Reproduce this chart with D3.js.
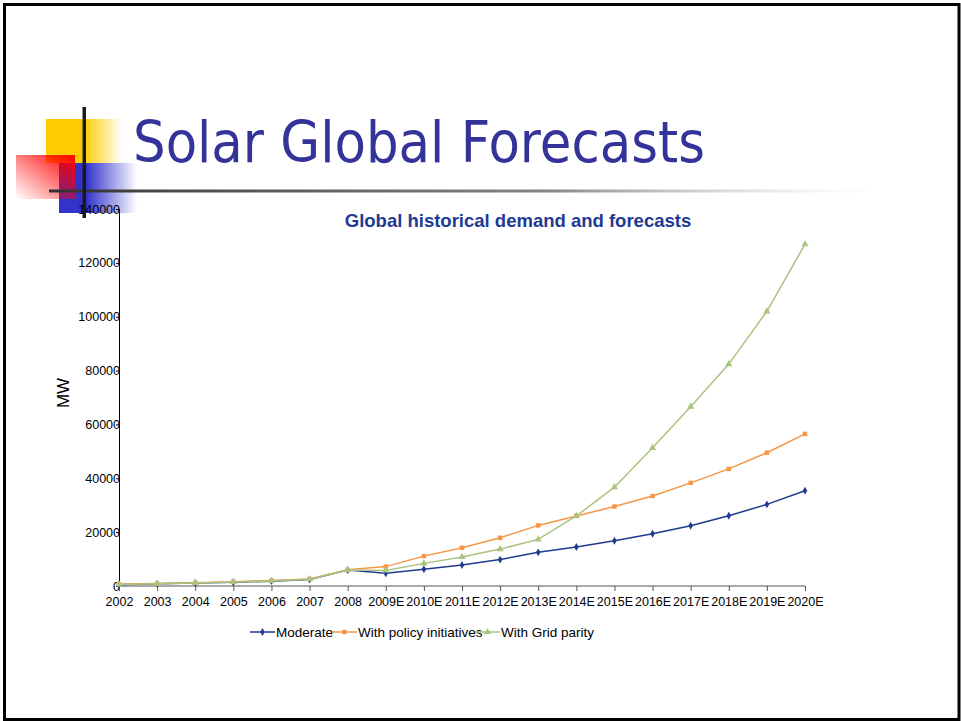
<!DOCTYPE html>
<html><head><meta charset="utf-8">
<script src="https://cdn.jsdelivr.net/npm/d3@7/dist/d3.min.js"></script>
<style>body{margin:0;background:#fff}svg{display:block}</style>
</head><body>
<svg id="c" width="961" height="721"></svg>
<script>
const categories = ["2002","2003","2004","2005","2006","2007","2008","2009E","2010E","2011E","2012E","2013E","2014E","2015E","2016E","2017E","2018E","2019E","2020E"];
const moderate = [500,800,1100,1400,1800,2400,5900,4700,6200,7800,9800,12500,14500,16800,19400,22400,26100,30300,35400];
const policy   = [700,900,1200,1600,2000,2600,6000,7200,11100,14200,17900,22500,26000,29500,33400,38300,43500,49500,56500];
const gridParity = [600,850,1150,1500,1900,2500,5900,5800,8400,10800,13700,17300,26000,36700,51300,66600,82400,102000,126900];
const yTicks = [0,20000,40000,60000,80000,100000,120000,140000];
const seriesNames = ["Moderate","With policy initiatives","With Grid parity"];

const svg = d3.select("#c");
const defs = svg.append("defs");
function lg(id, x1,y1,x2,y2, stops){
  const g = defs.append("linearGradient").attr("id",id).attr("x1",x1).attr("y1",y1).attr("x2",x2).attr("y2",y2);
  stops.forEach(s=>g.append("stop").attr("offset",s[0]).attr("stop-color",s[1]).attr("stop-opacity",s[2]));
}
lg("gy","0","0","1","0",[[0,"#FFCC00",1],[0.5,"#FFCC00",1],[1,"#FFCC00",0]]);
lg("gb","0","0","1","0",[[0,"#3333CC",1],[0.35,"#3333CC",1],[1,"#3333CC",0]]);
lg("gr","1","0","0","1",[[0,"#FF0000",1],[1,"#FF0000",0]]);
lg("gl","0","0","1","0",[[0,"#333333",1],[0.6,"#666666",0.8],[1,"#cccccc",0]]);

// slide border
svg.append("rect").attr("x",4.5).attr("y",4.5).attr("width",954.5).attr("height",715).attr("fill","none").attr("stroke","#000").attr("stroke-width",3);

// decoration
svg.append("rect").attr("x",46).attr("y",119).attr("width",76).attr("height",44).attr("fill","url(#gy)");
svg.append("rect").attr("x",59).attr("y",163).attr("width",78).attr("height",50).attr("fill","url(#gb)");
svg.append("rect").attr("x",16).attr("y",155).attr("width",59).attr("height",44).attr("fill","url(#gr)");
svg.append("rect").attr("x",49).attr("y",189.5).attr("width",830).attr("height",3).attr("fill","url(#gl)");
svg.append("rect").attr("x",82.5).attr("y",107).attr("width",3.5).attr("height",111).attr("fill","#1a1a1a");

// slide title
svg.append("text").attr("x",133).attr("y",162).attr("font-family","DejaVu Sans").attr("font-size",57)
  .attr("fill","#333399").attr("textLength",572).attr("lengthAdjust","spacingAndGlyphs").text("Solar Global Forecasts");

// chart
const x = d3.scalePoint().domain(categories).range([119,805]);
const y = d3.scaleLinear().domain([0,140000]).range([586,209]);

svg.append("text").attr("x",518).attr("y",227).attr("text-anchor","middle").attr("font-family","Liberation Sans, Arial")
  .attr("font-weight","bold").attr("font-size",18.5).attr("fill","#1F3A93").text("Global historical demand and forecasts");

svg.append("text").attr("transform","translate(69,393) rotate(-90)").attr("text-anchor","middle")
  .attr("font-family","Liberation Sans, Arial").attr("font-size",17).attr("fill","#000").text("MW");

const yAxis = svg.append("g").attr("transform","translate(119,0)")
  .call(d3.axisLeft(y).tickValues(yTicks).tickFormat(d3.format("d")).tickSize(3).tickPadding(-4));
yAxis.selectAll("text").attr("font-family","Liberation Sans, Arial").attr("font-size",12.5).attr("fill","#000");
yAxis.selectAll("line,path").attr("stroke","#000");

const xAxis = svg.append("g").attr("transform","translate(0,586)")
  .call(d3.axisBottom(x).tickSize(5).tickPadding(6));
xAxis.selectAll("text").attr("font-family","Liberation Sans, Arial").attr("font-size",12.5).attr("fill","#000");
xAxis.selectAll("line").attr("stroke","#555");
xAxis.select("path").attr("stroke","#555").attr("d","M119,0H805");

const colors = ["#1F3A8F","#F79646","#A9C47F"];
const data = [moderate, policy, gridParity];
const line = d3.line().x((d,i)=>x(categories[i])).y(d=>y(d));
const symbols = [d3.symbolDiamond, d3.symbolSquare, d3.symbolTriangle];
const symSizes = [18,20,22];

data.forEach((s,k)=>{
  svg.append("path").datum(s).attr("d",line).attr("fill","none").attr("stroke",colors[k]).attr("stroke-width",1.5);
  svg.append("g").selectAll("path").data(s).join("path")
    .attr("d",d3.symbol(symbols[k],symSizes[k]))
    .attr("transform",(d,i)=>`translate(${x(categories[i])},${y(d)})`)
    .attr("fill",colors[k]);
});

// legend
const legX = [250,332,475];
seriesNames.forEach((n,k)=>{
  const g = svg.append("g").attr("transform",`translate(${legX[k]},632)`);
  g.append("line").attr("x1",0).attr("x2",25).attr("stroke",colors[k]).attr("stroke-width",1.5);
  g.append("path").attr("d",d3.symbol(symbols[k],symSizes[k])).attr("transform","translate(12.5,0)").attr("fill",colors[k]);
  g.append("text").attr("x",26).attr("y",5).attr("font-family","Liberation Sans, Arial").attr("font-size",13.5).attr("fill","#000").text(n);
});
</script>
</body></html>
